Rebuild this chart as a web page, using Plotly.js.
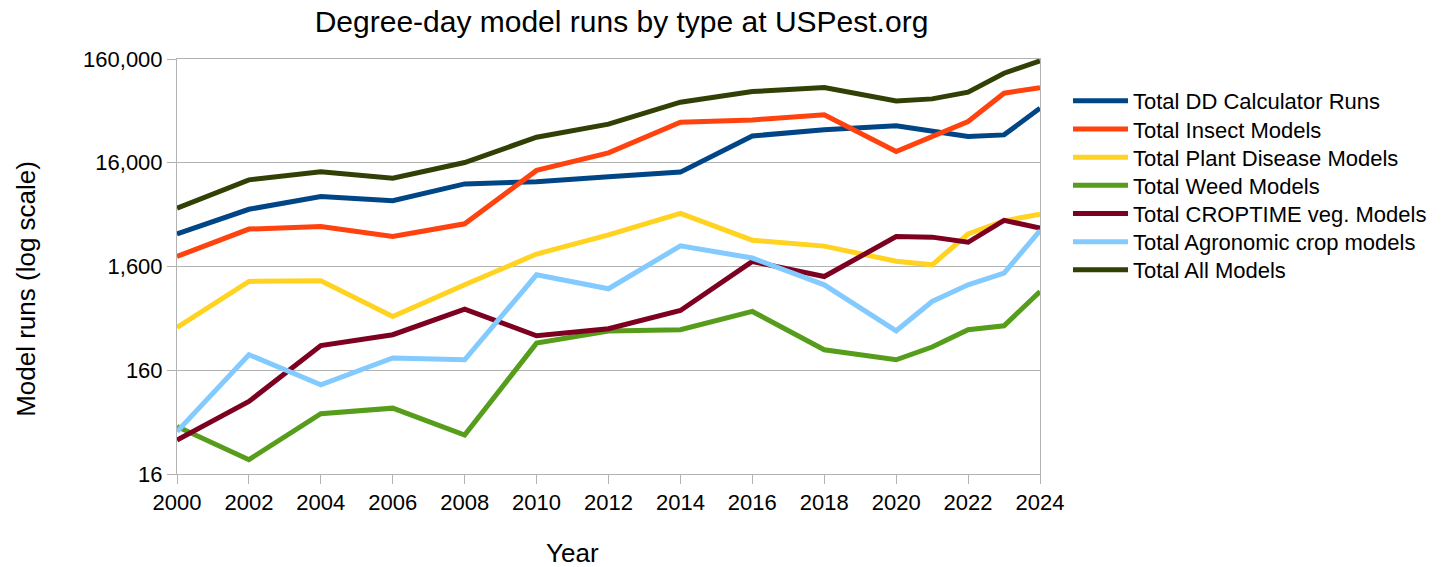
<!DOCTYPE html>
<html>
<head>
<meta charset="utf-8">
<script src="https://cdn.plot.ly/plotly-3.0.1.min.js"></script>
<style>html,body{margin:0;padding:0;background:#fff;}#chart{width:1452px;height:567px;}</style>
</head>
<body>
<div id="chart"></div>
<script>
const years = [2000, 2002, 2004, 2006, 2008, 2010, 2012, 2014, 2016, 2018, 2020, 2021, 2022, 2023, 2024];
const seriesNames = ["Total DD Calculator Runs", "Total Insect Models", "Total Plant Disease Models", "Total Weed Models", "Total CROPTIME veg. Models", "Total Agronomic crop models", "Total All Models"];
const ddCalculator = [3300, 5700, 7550, 6900, 10000, 10500, 11700, 13000, 29000, 33200, 36300, 32000, 28600, 29700, 53700];
const insectModels = [2000, 3670, 3890, 3110, 4130, 13500, 19900, 39400, 41400, 46300, 20500, 28600, 39900, 74900, 84800];
const plantDiseaseModels = [413, 1150, 1165, 528, 1066, 2110, 3230, 5200, 2870, 2515, 1800, 1660, 3290, 4410, 5115];
const weedModels = [46, 22, 61, 69, 38, 292, 382, 393, 590, 252, 202, 268, 393, 429, 919];
const croptimeModels = [34, 80, 277, 352, 622, 344, 402, 603, 1790, 1280, 3110, 3070, 2740, 4460, 3750];
const agronomicModels = [41, 226, 116, 210, 202, 1330, 976, 2530, 1930, 1066, 384, 736, 1066, 1380, 3555];
const allModels = [5845, 10950, 13075, 11370, 16070, 28230, 37670, 61370, 77660, 84840, 63160, 66030, 76630, 116800, 153400];
const yTickVals = [16, 160, 1600, 16000, 160000];
const yTickText = ["16", "160", "1,600", "16,000", "160,000"];
const colors = ["#004586", "#ff420e", "#ffd320", "#579d1c", "#7e0021", "#83caff", "#314004"];

const values = [ddCalculator, insectModels, plantDiseaseModels, weedModels, croptimeModels, agronomicModels, allModels];
const font = "Liberation Sans, Arial, sans-serif";
const legendIds = values.map((v, i) => i === 0 ? "legend" : "legend" + (i + 1));
const traces = values.map((v, i) => ({
  type: "scatter", mode: "lines", x: years, y: v, name: seriesNames[i],
  legend: legendIds[i],
  line: {color: colors[i], width: 5}
}));

const layout = {
  width: 1452, height: 567,
  margin: {l: 177, r: 412, t: 59, b: 93},
  paper_bgcolor: "#ffffff", plot_bgcolor: "#ffffff",
  font: {family: font, color: "#000000", size: 22},
  showlegend: true,
  title: {text: "Degree-day model runs by type at USPest.org", font: {family: font, size: 30, color: "#000"},
          x: 621.5/1452, xref: "container", xanchor: "center", y: 1 - 21/567, yref: "container", yanchor: "middle"},
  xaxis: {
    range: [2000, 2024], tickmode: "linear", tick0: 2000, dtick: 2,
    showgrid: false, zeroline: false, showline: true, mirror: true, linecolor: "#b3b3b3", linewidth: 1,
    ticks: "outside", ticklen: 9, tickcolor: "#b3b3b3", tickfont: {family: font, size: 22, color: "#000"}
  },
  yaxis: {
    type: "log", range: [Math.log10(16), Math.log10(160000)],
    tickmode: "array", tickvals: yTickVals, ticktext: yTickText,
    showgrid: true, gridcolor: "#b3b3b3", gridwidth: 1, zeroline: false,
    showline: true, mirror: true, linecolor: "#b3b3b3", linewidth: 1,
    ticks: "outside", ticklen: 9, tickcolor: "#b3b3b3", tickfont: {family: font, size: 22, color: "#000"}
  },
  annotations: [
    {text: "Year", xref: "paper", yref: "paper", x: (572 - 177)/(1040 - 177), y: -(553 - 474.3)/(474.3 - 59),
     xanchor: "center", yanchor: "middle", showarrow: false, font: {family: font, size: 26, color: "#000"}},
    {text: "Model runs (log scale)", xref: "paper", yref: "paper", x: (26 - 177)/(1040 - 177), y: (474.3 - 289)/(474.3 - 59),
     xanchor: "center", yanchor: "middle", textangle: -90, showarrow: false, font: {family: font, size: 26, color: "#000"}}
  ]
};

legendIds.forEach((id, i) => {
  layout[id] = {
    xref: "container", yref: "container", x: 1068/1452, y: 1 - (101 + i * 28.17)/567, xanchor: "left", yanchor: "middle",
    font: {family: font, size: 22, color: "#000"}, bgcolor: "rgba(0,0,0,0)", borderwidth: 0, itemwidth: 55
  };
});

Plotly.newPlot("chart", traces, layout, {displayModeBar: false, responsive: false});
</script>
</body>
</html>
